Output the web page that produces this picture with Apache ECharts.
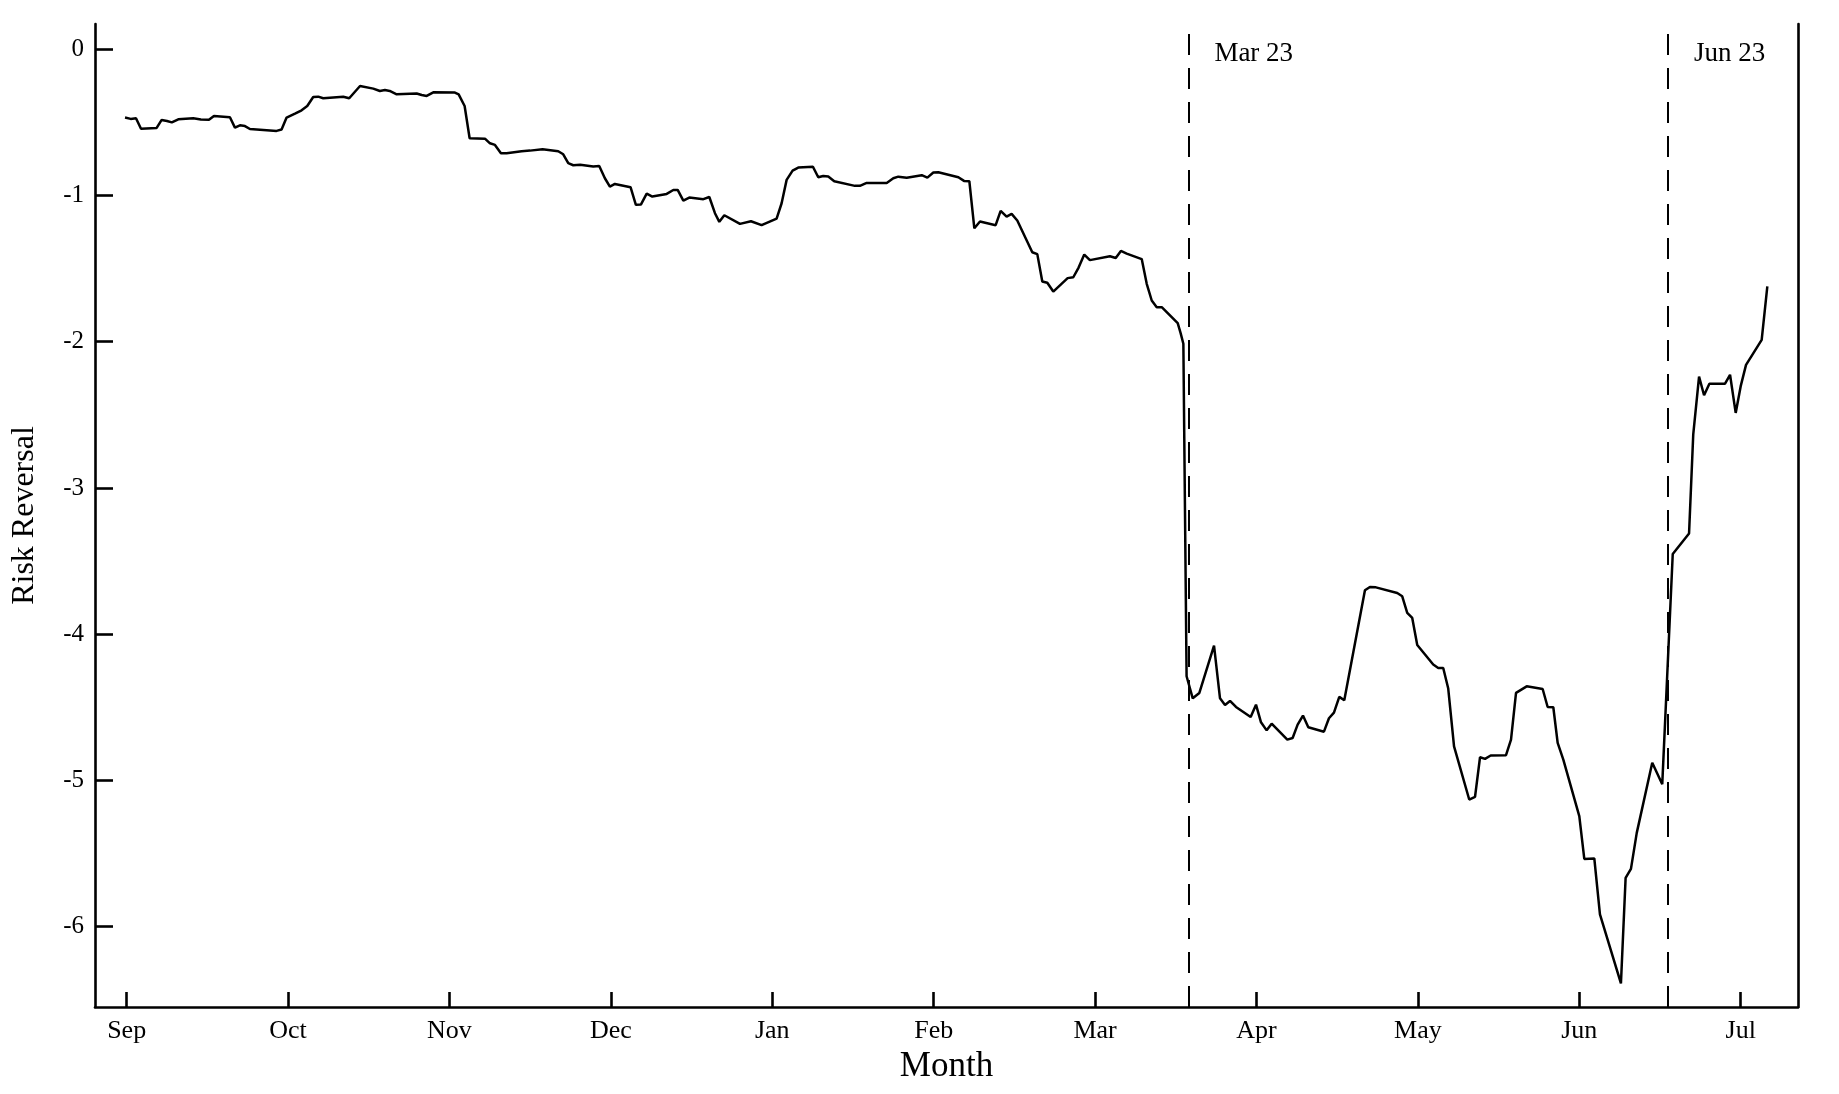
<!DOCTYPE html>
<html><head><meta charset="utf-8">
<script src="https://cdn.jsdelivr.net/npm/echarts@6/dist/echarts.min.js"></script>
<style>html,body{margin:0;padding:0;background:#fff}#chart{width:1839px;height:1094px}</style>
</head><body><div id="chart"></div>
<script>
// x positions are measured in months from the start of September (Sep = 0 ... Jul = 10)
const monthLabels = ['Sep','Oct','Nov','Dec','Jan','Feb','Mar','Apr','May','Jun','Jul'];
const monthTicks = [0,1,2,3,4,5,6,7,8,9,10];
const yTicks = [0,-1,-2,-3,-4,-5,-6];
const eventPos = [6.575, 9.547];
const eventLabels = ['Mar 23','Jun 23'];

const datePos = [
 -0.01,0.025,0.058,0.089,0.186,0.217,0.25,0.28,0.32,0.413,0.46,0.51,0.541,0.64,0.671,0.702,0.733,0.764,0.929,0.96,
 0.991,1.043,1.084,1.119,1.156,1.187,1.218,1.342,1.379,1.446,1.528,1.569,1.6,1.63,1.673,1.797,1.828,1.859,1.9,2.034,
 2.057,2.094,2.125,2.22,2.251,2.282,2.319,2.354,2.447,2.499,2.577,2.674,2.705,2.736,2.767,2.81,2.891,2.928,2.963,2.994,
 3.025,3.122,3.155,3.186,3.222,3.257,3.346,3.387,3.414,3.449,3.486,3.573,3.61,3.645,3.672,3.703,3.8,3.868,3.934,4.027,
 4.058,4.089,4.126,4.161,4.252,4.285,4.316,4.347,4.384,4.512,4.543,4.585,4.709,4.75,4.781,4.833,4.926,4.961,4.998,5.029,
 5.153,5.188,5.221,5.252,5.287,5.384,5.415,5.452,5.483,5.518,5.611,5.642,5.673,5.704,5.741,5.83,5.865,5.898,5.933,5.968,
 6.092,6.128,6.16,6.196,6.289,6.32,6.351,6.382,6.413,6.512,6.53,6.547,6.567,6.605,6.646,6.737,6.774,6.805,6.836,6.873,
 6.964,6.997,7.028,7.063,7.094,7.191,7.224,7.255,7.288,7.321,7.418,7.449,7.48,7.513,7.544,7.672,7.703,7.74,7.872,7.903,
 7.934,7.965,7.996,8.095,8.126,8.157,8.188,8.224,8.318,8.354,8.385,8.416,8.451,8.546,8.577,8.608,8.674,8.773,8.804,8.839,
 8.866,8.901,9.0,9.031,9.093,9.128,9.258,9.287,9.32,9.356,9.452,9.514,9.579,9.68,9.706,9.742,9.773,9.806,9.903,9.934,
 9.969,10.0,10.033,10.13,10.165
];
const riskReversal = [
 -0.467,-0.476,-0.472,-0.543,-0.538,-0.483,-0.49,-0.5,-0.479,-0.472,-0.48,-0.482,-0.456,-0.465,-0.536,-0.52,-0.525,-0.545,-0.558,-0.549,
 -0.467,-0.44,-0.417,-0.388,-0.326,-0.324,-0.335,-0.324,-0.335,-0.251,-0.269,-0.285,-0.279,-0.285,-0.308,-0.302,-0.313,-0.319,-0.294,-0.296,
 -0.308,-0.388,-0.608,-0.611,-0.643,-0.654,-0.711,-0.711,-0.697,-0.693,-0.684,-0.697,-0.718,-0.779,-0.793,-0.79,-0.802,-0.798,-0.882,-0.939,
 -0.921,-0.943,-1.064,-1.062,-0.987,-1.007,-0.989,-0.962,-0.962,-1.035,-1.014,-1.025,-1.01,-1.121,-1.18,-1.135,-1.194,-1.176,-1.203,-1.158,
 -1.053,-0.893,-0.83,-0.809,-0.803,-0.875,-0.866,-0.87,-0.902,-0.934,-0.934,-0.914,-0.914,-0.882,-0.871,-0.878,-0.861,-0.878,-0.843,-0.841,
 -0.875,-0.9,-0.902,-1.224,-1.178,-1.203,-1.105,-1.144,-1.126,-1.171,-1.388,-1.401,-1.588,-1.597,-1.657,-1.565,-1.559,-1.493,-1.404,-1.442,
 -1.415,-1.427,-1.379,-1.397,-1.435,-1.604,-1.718,-1.764,-1.764,-1.873,-1.941,-2.014,-4.288,-4.439,-4.402,-4.079,-4.439,-4.484,-4.457,-4.498,
 -4.566,-4.482,-4.603,-4.658,-4.612,-4.721,-4.71,-4.619,-4.557,-4.637,-4.667,-4.575,-4.537,-4.429,-4.452,-3.7,-3.677,-3.68,-3.719,-3.741,
 -3.855,-3.889,-4.074,-4.208,-4.231,-4.231,-4.372,-4.767,-5.131,-5.113,-4.842,-4.853,-4.83,-4.828,-4.721,-4.402,-4.357,-4.375,-4.498,-4.5,
 -4.744,-4.858,-5.245,-5.537,-5.534,-5.917,-6.389,-5.667,-5.605,-5.359,-4.88,-5.026,-3.452,-3.312,-2.634,-2.239,-2.366,-2.287,-2.287,-2.226,
 -2.487,-2.304,-2.158,-1.987,-1.621
];

const FONT = '"Liberation Serif", "Times New Roman", serif';
const X_MIN = -0.196, X_MAX = 10.355, Y_MIN = -6.55, Y_MAX = 0.173;

const chart = echarts.init(document.getElementById('chart'), null, {renderer: 'canvas'});
chart.setOption({
  animation: false,
  backgroundColor: '#ffffff',
  grid: {left: 95, right: 41, top: 24, bottom: 87, containLabel: false, outerBoundsMode: 'none'},
  xAxis: {
    type: 'value', min: X_MIN, max: X_MAX,
    name: 'Month', nameLocation: 'middle', nameGap: 27,
    nameTextStyle: {fontFamily: FONT, fontSize: 35, color: '#000'},
    axisLine: {show: true, onZero: false, lineStyle: {color: '#000', width: 2.6}},
    axisTick: {show: true, inside: true, length: 15, customValues: monthTicks, lineStyle: {color: '#000', width: 2.6}},
    axisLabel: {show: true, margin: 11, customValues: monthTicks, fontFamily: FONT, fontSize: 26, color: '#000',
      formatter: v => monthLabels[Math.round(v)]},
    splitLine: {show: false}
  },
  yAxis: [{
    type: 'value', min: Y_MIN, max: Y_MAX,
    name: 'Risk Reversal', nameLocation: 'middle', nameGap: 54, nameRotate: 90,
    nameTextStyle: {fontFamily: FONT, fontSize: 32, color: '#000'},
    axisLine: {show: true, onZero: false, lineStyle: {color: '#000', width: 2.6}},
    axisTick: {show: true, inside: true, length: 18, customValues: yTicks, lineStyle: {color: '#000', width: 2.6}},
    axisLabel: {show: true, margin: 11, customValues: yTicks, fontFamily: FONT, fontSize: 25, color: '#000',
      formatter: v => String(Math.round(v))},
    splitLine: {show: false}
  }, {
    type: 'value', min: Y_MIN, max: Y_MAX, position: 'right',
    axisLine: {show: true, onZero: false, lineStyle: {color: '#000', width: 2.6}},
    axisTick: {show: false}, axisLabel: {show: false}, splitLine: {show: false}
  }],
  series: [{
    type: 'line',
    data: datePos.map((x, i) => [x, riskReversal[i]]),
    showSymbol: false, symbol: 'none',
    lineStyle: {color: '#000', width: 2.5},
    markLine: {
      silent: true, symbol: ['none', 'none'],
      lineStyle: {color: '#000', width: 2, type: [21, 13]},
      label: {show: false},
      data: eventPos.map(x => ({xAxis: x}))
    },
    markPoint: {
      silent: true, symbol: 'circle', symbolSize: 1,
      itemStyle: {color: 'rgba(0,0,0,0)'},
      data: eventPos.map((x, i) => ({
        coord: [x, -0.03], value: eventLabels[i],
        label: {show: true, position: 'right', distance: 26, formatter: eventLabels[i],
          fontFamily: FONT, fontSize: 27, color: '#000'}
      }))
    }
  }]
});
</script>
</body></html>
